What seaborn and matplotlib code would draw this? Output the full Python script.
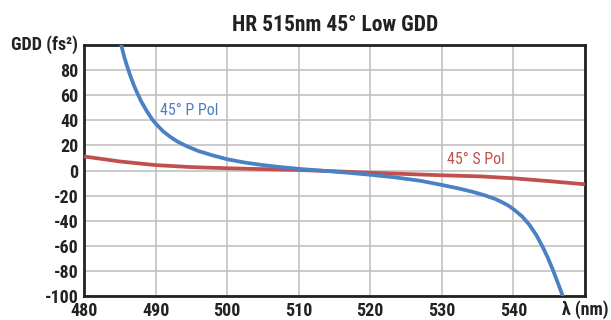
import matplotlib
matplotlib.use("Agg")
import matplotlib.pyplot as plt
import seaborn as sns
import pandas as pd
from matplotlib import font_manager

# Data
p_wl = [485.2, 485.6, 486.0, 486.5, 487.0, 487.5, 488.0, 488.7, 489.5, 490.0, 491.0, 492.0, 492.8, 493.4,
        494.5, 496.0, 498.0, 500.0, 502.5, 505.0, 507.5, 510.0, 512.5, 515.0, 517.5, 520.0, 523.5, 527.0,
        530.0, 532.5, 534.5, 536.0, 537.5, 538.5, 539.3, 540.0, 541.2, 542.2, 543.2, 544.1, 544.8, 545.5,
        546.2, 546.9]
p_gdd = [100, 91, 83.5, 75, 67.5, 61, 55, 48, 41, 37.5, 31.5, 27, 24, 22,
         19, 15.5, 12, 9, 6.3, 4.3, 2.7, 1.3, 0.2, -0.9, -2.1, -3.4, -5.5, -8.2,
         -11.5, -14.5, -17.3, -19.8, -22.8, -25.5, -28, -30.8, -36.5, -43, -51.5, -61, -69.5, -79,
         -89.5, -100]
s_wl = [480, 485, 490, 495, 500, 505, 510, 515, 520, 525, 530, 535.4, 540, 545, 550]
s_gdd = [11.2, 7.2, 4.3, 2.7, 1.8, 1.1, 0.4, -0.6, -1.8, -2.8, -3.8, -4.7, -6.2, -8.5, -11]
x_ticks = [480, 490, 500, 510, 520, 530, 540]
y_ticks = [-100, -80, -60, -40, -20, 0, 20, 40, 60, 80]

sns.set_theme(style="white")

# pick a condensed bold font if one is installed
fp = None
names = {f.name for f in font_manager.fontManager.ttflist}
for cand in ["Roboto Condensed", "Open Sans Condensed", "Liberation Sans Narrow", "Noto Sans Condensed"]:
    if cand in names:
        fp = cand
        break

def bprop(size):
    if fp:
        return font_manager.FontProperties(family=fp, weight="bold", size=size)
    return font_manager.FontProperties(family="DejaVu Sans", weight="bold", size=size)

def rprop(size):
    if fp:
        return font_manager.FontProperties(family=fp, size=size)
    return font_manager.FontProperties(family="DejaVu Sans", size=size)

blue = "#4a80c4"
red = "#c0504d"
dark = "#222222"

df_p = pd.DataFrame({"wl": p_wl, "gdd": p_gdd})
df_s = pd.DataFrame({"wl": s_wl, "gdd": s_gdd})

fig = plt.figure(figsize=(6.11, 3.2), dpi=100)
ax = fig.add_axes([84/611, 1-296/320, (585-84)/611, (296-45)/320])

sns.lineplot(data=df_s, x="wl", y="gdd", ax=ax, color=red, linewidth=2.7, zorder=3)
sns.lineplot(data=df_p, x="wl", y="gdd", ax=ax, color=blue, linewidth=2.7, zorder=4)

ax.set_xlim(480, 550)
ax.set_ylim(-100, 100)
ax.set_xticks(x_ticks + [550])
ax.set_xticklabels([str(t) for t in x_ticks] + [""])
ax.set_yticks(y_ticks + [100])
ax.set_yticklabels([str(t) for t in y_ticks] + [""])
for lab in ax.get_xticklabels() + ax.get_yticklabels():
    lab.set_fontproperties(bprop(13))
    lab.set_color(dark)
ax.tick_params(axis="x", length=0, pad=4)
ax.tick_params(axis="y", length=0, pad=4)
ax.grid(True, color="#bdbdbd", linewidth=1.1)
ax.set_axisbelow(True)
for s in ax.spines.values():
    s.set_color(dark)
    s.set_linewidth(2)
ax.set_xlabel("")
ax.set_ylabel("")

fig.text(335/611, 1-25/320, "HR 515nm 45° Low GDD", ha="center", va="center",
         fontproperties=bprop(15.5), color=dark)
fig.text(44/611, 1-45/320, "GDD (fs²)", ha="center", va="center",
         fontproperties=bprop(13), color=dark)
fig.text(609/611, 1-310/320, "λ (nm)", ha="right", va="center",
         fontproperties=bprop(13), color=dark)

ax.text(490.6, 48, "45° P Pol", color=blue, ha="left", va="center", fontproperties=rprop(11.5))
ax.text(534.8, 9, "45° S Pol", color=red, ha="center", va="center", fontproperties=rprop(11.5))

fig.savefig("out.png", dpi=100)
